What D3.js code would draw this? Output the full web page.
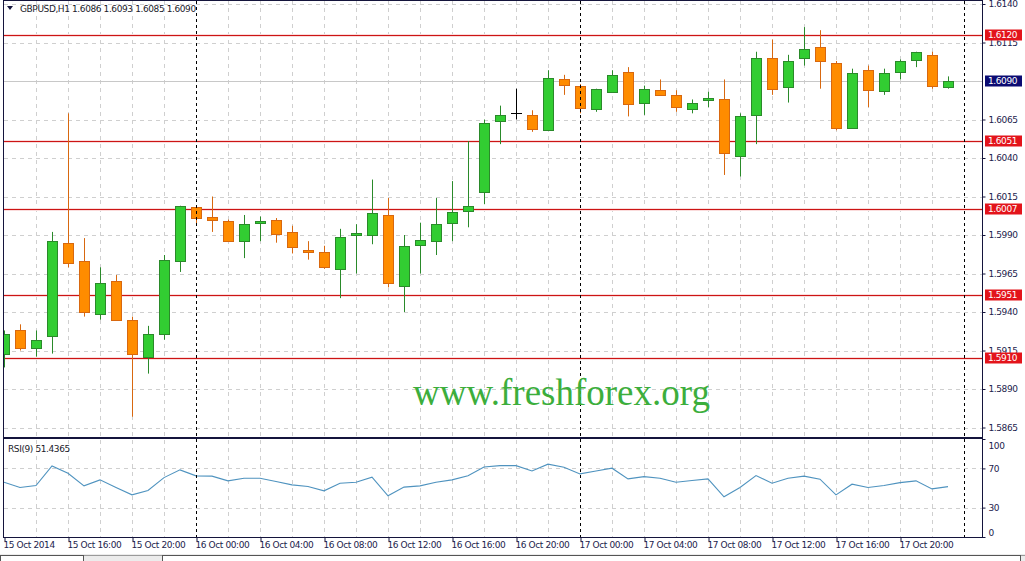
<!DOCTYPE html>
<html>
<head>
<meta charset="utf-8">
<script src="https://cdn.jsdelivr.net/npm/d3@7"></script>
<style>
  body { margin: 0; background: #fff; }
  svg text { font-family: "DejaVu Sans", Tahoma, sans-serif; font-size: 9px; letter-spacing: -0.4px; fill: #1c1c4c; }
</style>
</head>
<body>
<svg id="chart" width="1025" height="561"></svg>
<script>
// GBPUSD H1, 15 Oct 12:00 .. 17 Oct 23:00
var opens = [1.5913, 1.5928, 1.5917, 1.5924, 1.5985, 1.5973, 1.5939, 1.5960, 1.5935, 1.5911,
  1.5926, 1.5973, 1.6008, 1.6002, 1.5999, 1.5986, 1.5998, 1.6000, 1.5992, 1.5980,
  1.5979, 1.5968, 1.5990, 1.5990, 1.6003, 1.5957, 1.5984, 1.5986, 1.5998, 1.6006,
  1.6018, 1.6064, 1.6069, 1.6068, 1.6058, 1.6091, 1.6087, 1.6072, 1.6083, 1.6096,
  1.6076, 1.6084, 1.6081, 1.6072, 1.6078, 1.6078, 1.6041, 1.6068, 1.6105, 1.6086,
  1.6105, 1.6112, 1.6102, 1.6059, 1.6097, 1.6083, 1.6096, 1.6104, 1.6107, 1.6086];
var highs = [1.5928, 1.5932, 1.5928, 1.5992, 1.6069, 1.5988, 1.5969, 1.5964, 1.5937, 1.5931,
  1.5977, 1.6009, 1.6009, 1.6015, 1.6000, 1.6003, 1.6002, 1.6001, 1.5996, 1.5986,
  1.5983, 1.5994, 1.5997, 1.6026, 1.6014, 1.5990, 1.5998, 1.6014, 1.6025, 1.6051,
  1.6065, 1.6074, 1.6085, 1.6071, 1.6097, 1.6094, 1.6088, 1.6085, 1.6097, 1.6099,
  1.6087, 1.6091, 1.6084, 1.6078, 1.6083, 1.6091, 1.6069, 1.6109, 1.6117, 1.6107,
  1.6125, 1.6123, 1.6103, 1.6098, 1.6100, 1.6098, 1.6104, 1.6109, 1.6109, 1.6093];
var lows = [1.5904, 1.5915, 1.5911, 1.5913, 1.5969, 1.5937, 1.5935, 1.5935, 1.5872, 1.5900,
  1.5922, 1.5966, 1.5997, 1.5992, 1.5986, 1.5975, 1.5986, 1.5985, 1.5978, 1.5974,
  1.5968, 1.5949, 1.5965, 1.5984, 1.5956, 1.5940, 1.5965, 1.5977, 1.5986, 1.5995,
  1.6010, 1.6049, 1.6065, 1.6057, 1.6058, 1.6081, 1.6069, 1.6070, 1.6083, 1.6067,
  1.6068, 1.6081, 1.6070, 1.6069, 1.6073, 1.6029, 1.6028, 1.6049, 1.6081, 1.6076,
  1.6100, 1.6085, 1.6058, 1.6059, 1.6073, 1.6081, 1.6091, 1.6099, 1.6085, 1.6085];
var closes = [1.5926, 1.5916, 1.5922, 1.5986, 1.5972, 1.5940, 1.5959, 1.5935, 1.5913, 1.5926,
  1.5974, 1.6009, 1.6001, 1.6000, 1.5986, 1.5997, 1.5999, 1.5991, 1.5982, 1.5979,
  1.5969, 1.5989, 1.5991, 1.6004, 1.5959, 1.5983, 1.5987, 1.5997, 1.6005, 1.6009,
  1.6063, 1.6068, 1.6069, 1.6059, 1.6092, 1.6087, 1.6073, 1.6085, 1.6094, 1.6075,
  1.6085, 1.6081, 1.6073, 1.6076, 1.6079, 1.6043, 1.6067, 1.6105, 1.6085, 1.6103,
  1.6111, 1.6103, 1.6060, 1.6095, 1.6084, 1.6095, 1.6103, 1.6109, 1.6087, 1.6090];
var rsi = [55.9, 50.5, 52.5, 72.5, 65.1, 52.2, 58.3, 50.5, 43.0, 47.4,
  60.6, 68.5, 62.4, 62.1, 57.3, 60.0, 60.0, 56.6, 53.2, 51.5,
  47.1, 54.9, 55.9, 61.0, 42.0, 50.9, 52.2, 55.9, 58.3, 62.4,
  71.5, 72.8, 72.8, 67.4, 74.3, 71.2, 64.4, 67.4, 70.2, 59.3,
  61.6, 60.0, 55.9, 57.6, 59.3, 41.0, 50.5, 62.7, 54.9, 60.0,
  62.1, 59.0, 43.0, 53.9, 50.5, 52.5, 55.5, 57.3, 49.1, 51.4];

var levels = [1.6120, 1.6051, 1.6007, 1.5951, 1.5910];
var priceTicks = [1.5865, 1.5890, 1.5915, 1.5940, 1.5965, 1.5990, 1.6015, 1.6040, 1.6065, 1.6090, 1.6115, 1.6140];
var rsiTicks = [100, 70, 30, 0];
var lastPrice = 1.6090;
var xTickIdx = [0, 4, 8, 12, 16, 20, 24, 28, 32, 36, 40, 44, 48, 52, 56];
var xTickLabels = ["15 Oct 2014", "15 Oct 16:00", "15 Oct 20:00", "16 Oct 00:00", "16 Oct 04:00",
  "16 Oct 08:00", "16 Oct 12:00", "16 Oct 16:00", "16 Oct 20:00", "17 Oct 00:00",
  "17 Oct 04:00", "17 Oct 08:00", "17 Oct 12:00", "17 Oct 16:00", "17 Oct 20:00"];
var daySeps = [12, 36, 60];

var data = opens.map(function(o, i) {
  return { i: i, open: o, high: highs[i], low: lows[i], close: closes[i], rsi: rsi[i] };
});

// panel geometry
var left = 4, right = 982;
var mainTop = 1, mainBottom = 437;
var rsiTop = 439, rsiBottom = 537;

var svg = d3.select("#chart");

var x = d3.scaleLinear().domain([0, 59]).range([4, 948]);
var y = d3.scaleLinear().domain([1.5865, 1.6140]).range([427.5, 4]);
var yRsi = d3.scaleLinear().domain([0, 100]).range([rsiBottom, rsiTop]);

function px(v) { return Math.round(v) + 0.5; }

// clip paths
var defs = svg.append("defs");
defs.append("clipPath").attr("id", "clipMain").append("rect")
  .attr("x", left).attr("y", mainTop).attr("width", right - left).attr("height", mainBottom - mainTop);
defs.append("clipPath").attr("id", "clipRsi").append("rect")
  .attr("x", left).attr("y", rsiTop).attr("width", right - left).attr("height", rsiBottom - rsiTop);

var mainG = svg.append("g").attr("clip-path", "url(#clipMain)");
var rsiG = svg.append("g").attr("clip-path", "url(#clipRsi)");

// grid: horizontal dashed at price ticks
mainG.selectAll(".hgrid")
  .data(priceTicks)
  .enter()
  .append("line")
  .attr("x1", left).attr("x2", right)
  .attr("y1", d => px(y(d))).attr("y2", d => px(y(d)))
  .attr("stroke", "#cfcfcf")
  .attr("stroke-dasharray", "4,4");

// vertical dashed grid every 2 hours
var vIdx = d3.range(2, 60, 2).filter(d => daySeps.indexOf(d) < 0);
[mainG, rsiG].forEach(function(g) {
  g.selectAll(".vgrid")
    .data(vIdx)
    .enter()
    .append("line")
    .attr("x1", d => px(x(d))).attr("x2", d => px(x(d)))
    .attr("y1", 0).attr("y2", rsiBottom)
    .attr("stroke", "#cfcfcf")
    .attr("stroke-dasharray", "4,4");
});

rsiG.selectAll(".rgrid")
  .data([70, 30])
  .enter()
  .append("line")
  .attr("x1", left).attr("x2", right)
  .attr("y1", d => px(yRsi(d))).attr("y2", d => px(yRsi(d)))
  .attr("stroke", "#cfcfcf")
  .attr("stroke-dasharray", "4,4");

// day separators
svg.selectAll(".daysep")
  .data(daySeps)
  .enter()
  .append("line")
  .attr("x1", d => px(x(d))).attr("x2", d => px(x(d)))
  .attr("y1", mainTop).attr("y2", rsiBottom)
  .attr("stroke", "#000")
  .attr("stroke-dasharray", "3,3");

// bid line
mainG.append("line")
  .attr("x1", left).attr("x2", right)
  .attr("y1", px(y(lastPrice))).attr("y2", px(y(lastPrice)))
  .attr("stroke", "#c8c8c8");

// support / resistance lines (faint pink halo + red core)
mainG.selectAll(".levelHalo")
  .data(levels)
  .enter()
  .append("line")
  .attr("x1", left).attr("x2", right)
  .attr("y1", d => px(y(d))).attr("y2", d => px(y(d)))
  .attr("stroke", "#fadcdc")
  .attr("stroke-width", 3);
mainG.selectAll(".level")
  .data(levels)
  .enter()
  .append("line")
  .attr("x1", left).attr("x2", right)
  .attr("y1", d => px(y(d))).attr("y2", d => px(y(d)))
  .attr("stroke", "#cc1414")
  .attr("stroke-width", 1);

// watermark
svg.append("text")
  .attr("x", 413)
  .attr("y", 405)
  .style("font-family", "'Liberation Serif', 'Times New Roman', serif")
  .style("font-size", "37px")
  .style("letter-spacing", "0px")
  .style("fill", "#3cae3c")
  .text("www.freshforex.org");

// candles
function colUp(d) { return d.close > d.open; }
function colDoji(d) { return d.close === d.open; }
function stroke(d) { return colDoji(d) ? "#000" : (colUp(d) ? "#2a8a2a" : "#d8680f"); }

var candles = mainG.selectAll(".candle")
  .data(data)
  .enter()
  .append("g");

candles.append("line")
  .attr("x1", d => Math.round(x(d.i)) + 0.5)
  .attr("x2", d => Math.round(x(d.i)) + 0.5)
  .attr("y1", d => y(d.high))
  .attr("y2", d => y(d.low))
  .attr("stroke", stroke);

candles.filter(d => !colDoji(d))
  .append("rect")
  .attr("x", d => Math.round(x(d.i)) - 4.5)
  .attr("width", 10)
  .attr("y", d => px(y(Math.max(d.open, d.close))))
  .attr("height", d => Math.max(1, Math.round(Math.abs(y(d.open) - y(d.close)))))
  .attr("fill", d => colUp(d) ? "#32cd32" : "#ff8c00")
  .attr("stroke", stroke);

candles.filter(colDoji)
  .append("line")
  .attr("x1", d => Math.round(x(d.i)) - 5)
  .attr("x2", d => Math.round(x(d.i)) + 6)
  .attr("y1", d => px(y(d.open)))
  .attr("y2", d => px(y(d.open)))
  .attr("stroke", "#000");

// RSI line
rsiG.append("path")
  .datum(data)
  .attr("fill", "none")
  .attr("stroke", "#4f93bf")
  .attr("stroke-width", 1.1)
  .attr("d", d3.line().x(d => x(d.i)).y(d => yRsi(d.rsi)));

// frames
svg.append("rect")
  .attr("x", 3.5).attr("y", 0.5)
  .attr("width", right - 3).attr("height", mainBottom)
  .attr("fill", "none").attr("stroke", "#14143c");
svg.append("rect")
  .attr("x", 3.5).attr("y", rsiTop - 0.5)
  .attr("width", right - 3).attr("height", rsiBottom - rsiTop + 1)
  .attr("fill", "none").attr("stroke", "#14143c");

// price axis
var priceAxis = d3.axisRight(y)
  .tickValues(priceTicks.filter(d => d !== lastPrice))
  .tickSize(3)
  .tickPadding(3)
  .tickFormat(d3.format(".4f"));
var pa = svg.append("g")
  .attr("transform", "translate(" + (right + 0.5) + ",0)")
  .call(priceAxis);
pa.select(".domain").remove();
pa.selectAll("line").attr("stroke", "#14143c");
pa.selectAll("text").attr("fill", "#1c1c4c");

// rsi axis
var rsiAxis = d3.axisRight(yRsi)
  .tickValues(rsiTicks)
  .tickSize(3)
  .tickPadding(3);
var ra = svg.append("g")
  .attr("transform", "translate(" + (right + 0.5) + ",0)")
  .call(rsiAxis);
ra.select(".domain").remove();
ra.selectAll("line").attr("stroke", "#14143c");
ra.selectAll("text")
  .attr("dy", d => d === 100 ? "1.1em" : (d === 0 ? "-0.2em" : "0.32em"));

// level labels
var lab = svg.selectAll(".lvl")
  .data(levels.map(d => ({ v: d, c: "#e3141b" })).concat([{ v: lastPrice, c: "#0b0b72" }]))
  .enter()
  .append("g")
  .attr("transform", d => "translate(985," + Math.round(y(d.v)) + ")");
lab.append("rect")
  .attr("x", 0).attr("y", -5.5)
  .attr("width", 37).attr("height", 11)
  .attr("fill", d => d.c);
lab.append("text")
  .attr("x", 3).attr("y", 0).attr("dy", "0.36em")
  .style("fill", "#fff")
  .text(d => d3.format(".4f")(d.v));

// time axis
var timeAxis = d3.axisBottom(x)
  .tickValues(xTickIdx)
  .tickSize(4)
  .tickPadding(2)
  .tickFormat((d, i) => xTickLabels[i]);
var ta = svg.append("g")
  .attr("transform", "translate(0," + (rsiBottom + 0.5) + ")")
  .call(timeAxis);
ta.select(".domain").remove();
ta.selectAll("line").attr("stroke", "#14143c").attr("transform", "translate(0.5,0)");
ta.selectAll("text").attr("text-anchor", "start").attr("dx", "-1").attr("dy", "0.55em");

// header
svg.append("path")
  .attr("d", "M7,6 L13,6 L10,10 Z")
  .attr("fill", "#14143c");
svg.append("text")
  .attr("x", 20).attr("y", 9).attr("dy", "0.34em")
  .style("fill", "#1a1a2a")
  .text("GBPUSD,H1  1.6086 1.6093 1.6085 1.6090");
svg.append("text")
  .attr("x", 8).attr("y", 449).attr("dy", "0.34em")
  .style("fill", "#1a1a2a")
  .text("RSI(9) 51.4365");

// tab strip at the bottom
svg.append("rect")
  .attr("x", 0).attr("y", 554).attr("width", 1025).attr("height", 7)
  .attr("fill", "#ececec");
svg.append("line")
  .attr("x1", 0).attr("x2", 1025).attr("y1", 555.5).attr("y2", 555.5)
  .attr("stroke", "#9a9a9a");
svg.selectAll(".tab")
  .data([[0, 83, "#fff"], [162, 858, "#fff"]])
  .enter()
  .append("rect")
  .attr("x", d => d[0] + 0.5).attr("y", 555.5)
  .attr("width", d => d[1]).attr("height", 8)
  .attr("fill", d => d[2]).attr("stroke", "#555");
</script>
</body>
</html>
